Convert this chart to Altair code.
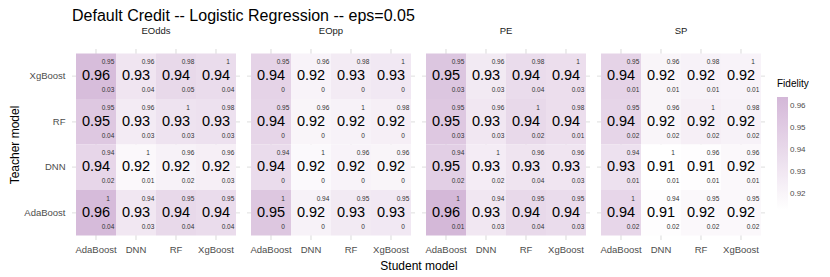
import altair as alt
import pandas as pd

metrics = ["EOdds", "EOpp", "PE", "SP"]
teachers = ["XgBoost", "RF", "DNN", "AdaBoost"]   # rows, top to bottom
students = ["AdaBoost", "DNN", "RF", "XgBoost"]   # columns, left to right

# fidelity per metric, rows = teachers, cols = students
fid_eodds = [[0.960, 0.931, 0.940, 0.938],
             [0.952, 0.927, 0.933, 0.934],
             [0.942, 0.918, 0.922, 0.924],
             [0.962, 0.930, 0.940, 0.938]]
fid_eopp = [[0.944, 0.921, 0.927, 0.929],
            [0.943, 0.920, 0.922, 0.924],
            [0.938, 0.917, 0.921, 0.920],
            [0.953, 0.922, 0.928, 0.929]]
fid_pe = [[0.954, 0.928, 0.938, 0.936],
          [0.952, 0.930, 0.940, 0.936],
          [0.947, 0.926, 0.932, 0.931],
          [0.964, 0.930, 0.940, 0.938]]
fid_sp = [[0.944, 0.920, 0.922, 0.921],
          [0.943, 0.920, 0.924, 0.922],
          [0.934, 0.9127, 0.914, 0.918],
          [0.942, 0.914, 0.918, 0.918]]

# small top-right numbers (same in every panel)
top_vals = [[0.95, 0.96, 0.98, 1],
            [0.95, 0.96, 1, 0.98],
            [0.94, 1, 0.96, 0.96],
            [1, 0.94, 0.95, 0.95]]

# small bottom-right numbers
bot_eodds = [[0.03, 0.04, 0.05, 0.04],
             [0.04, 0.03, 0.03, 0.03],
             [0.02, 0.01, 0.02, 0.03],
             [0.04, 0.03, 0.04, 0.04]]
bot_eopp = [[0, 0, 0, 0],
            [0, 0, 0, 0],
            [0, 0, 0, 0],
            [0, 0, 0, 0]]
bot_pe = [[0.03, 0.03, 0.04, 0.03],
          [0.03, 0.03, 0.02, 0.01],
          [0.02, 0.02, 0.04, 0.03],
          [0.01, 0.03, 0.04, 0.03]]
bot_sp = [[0.01, 0.01, 0.01, 0.01],
          [0.02, 0.02, 0.02, 0.02],
          [0.01, 0.01, 0.01, 0.01],
          [0.02, 0.02, 0.02, 0.02]]

fid = {"EOdds": fid_eodds, "EOpp": fid_eopp, "PE": fid_pe, "SP": fid_sp}
bot = {"EOdds": bot_eodds, "EOpp": bot_eopp, "PE": bot_pe, "SP": bot_sp}

rows = []
for m in metrics:
    for i, t in enumerate(teachers):
        for j, s in enumerate(students):
            rows.append(dict(metric=m, teacher=t, student=s,
                             fidelity=fid[m][i][j], top=top_vals[i][j],
                             bottom=bot[m][i][j]))
df = pd.DataFrame(rows)

band = alt.Scale(paddingInner=0, paddingOuter=0.1)
xaxis = alt.Axis(labelAngle=0, ticks=False, domain=False, grid=False,
                 labelFontSize=9.5, labelColor="#4d4d4d", labelPadding=3)
yaxis = alt.Axis(ticks=False, domain=False, grid=False,
                 labelFontSize=9.5, labelColor="#4d4d4d",
                 labelPadding=6, titleFontSize=12, titleFontWeight="normal",
                 titleColor="black", titlePadding=2)

X = alt.X("student:N", sort=students, title=None, scale=band, axis=xaxis)
Y = alt.Y("teacher:N", sort=teachers, title="Teacher model", scale=band, axis=yaxis)

vgrid = alt.Chart().mark_rule(color="#ebebeb", strokeWidth=1).encode(x=X)
hgrid = alt.Chart().mark_rule(color="#ebebeb", strokeWidth=1).encode(y=Y)

base = alt.Chart().encode(x=X, y=Y)

rect = base.mark_rect().encode(
    color=alt.Color("fidelity:Q",
                    scale=alt.Scale(range=["#ffffff", "#d4b8d8"], interpolate="lab", zero=False),
                    legend=alt.Legend(title="Fidelity", orient="none", legendX=705, legendY=30,
                                      gradientLength=113, gradientThickness=11,
                                      values=[0.92, 0.93, 0.94, 0.95, 0.96], format=".2f",
                                      titleFontSize=10, titleFontWeight="normal", titleColor="black",
                                      labelFontSize=8, labelColor="#4d4d4d", titlePadding=8))
)
big = base.mark_text(fontSize=14.5, color="black").encode(
    text=alt.Text("fidelity:Q", format=".2f"))
tp = base.mark_text(fontSize=6.5, dx=12, dy=-14, color="#333333").encode(
    text=alt.Text("top:Q", format="~g"))
bt = base.mark_text(fontSize=6.5, dx=12, dy=14, color="#333333").encode(
    text=alt.Text("bottom:Q", format="~g"))

chart = alt.layer(vgrid, hgrid, rect, big, tp, bt, data=df).properties(width=168, height=191).facet(
    column=alt.Column("metric:N", sort=metrics,
                      header=alt.Header(title="Student model", titleOrient="bottom",
                                        labelOrient="top", labelFontSize=9.5, labelColor="#1a1a1a",
                                        labelPadding=12.5, titleFontSize=12, titleFontWeight="normal",
                                        titleColor="black", titlePadding=-3)),
    spacing=5,
).properties(
    padding=0,
    title=alt.TitleParams("Default Credit -- Logistic Regression -- eps=0.05", anchor="start",
                          frame="group", fontSize=16, fontWeight="normal", color="black",
                          offset=2)
).configure(
    font="Liberation Sans",
    view=alt.ViewConfig(stroke=None),
)

chart.save("out.html", embed_options={"renderer": "svg", "actions": False})
